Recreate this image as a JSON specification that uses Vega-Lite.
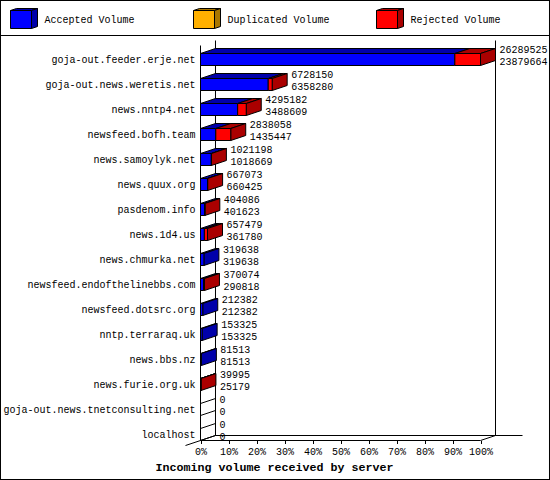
{"$schema":"https://vega.github.io/schema/vega-lite/v6.json","width":550,"height":480,"padding":0,"autosize":{"type":"none"},"background":"white",
"config":{"view":{"stroke":null},"axisY":{"disable":true},"axisX":{"grid":false,"domain":false,"tickColor":"black","tickSize":3,"labelColor":"black","labelFont":"Liberation Mono","labelFontSize":10,"labelPadding":3,"labelFlush":false,"labelOverlap":false,"labelAngle":0,"titleFont":"Liberation Mono","titleFontSize":11.67,"titleFontWeight":"bold","titleColor":"black"},"text":{"font":"Liberation Mono","fontSize":10,"color":"black"},"rule":{"color":"black","strokeWidth":1}},
"layer":[
{"data":{"values":[{}]},"layer":[
{"mark":"rule","encoding":{"x":{"datum":0,"type":"quantitative","scale":{"domain":[-71.607,124.821],"nice":false,"zero":false},"axis":{"values":[0,10,20,30,40,50,60,70,80,90,100],"labelExpr":"datum.value+'%'","offset":-39.5,"title":"Incoming volume received by server","titleX":274,"titleY":26,"titleBaseline":"middle","titleAlign":"center","titleAnchor":null}},"x2":{"datum":100},"y":{"datum":15.24,"type":"quantitative","scale":{"domain":[-2.38,16.82],"reverse":true,"nice":false,"zero":false}},"y2":{"datum":15.24}}},
{"mark":"rule","encoding":{"x":{"datum":0},"y":{"datum":-0.56},"y2":{"datum":15.24}}},
{"mark":"rule","encoding":{"x":{"datum":5.357},"y":{"datum":-0.76},"y2":{"datum":15.04}}},
{"mark":"rule","encoding":{"x":{"datum":105.357},"y":{"datum":-0.76},"y2":{"datum":15.04}}},
{"mark":"rule","encoding":{"x":{"datum":5.357},"x2":{"datum":115},"y":{"datum":15.04},"y2":{"datum":15.04}}},
{"mark":"rule","encoding":{"x":{"datum":100},"x2":{"datum":105.357},"y":{"datum":15.24},"y2":{"datum":15.04}}},
{"mark":"rule","encoding":{"x":{"datum":-5.357},"x2":{"datum":5.357},"y":{"datum":15.44},"y2":{"datum":15.04}}},
{"mark":"rule","encoding":{"x":{"datum":-71.607},"x2":{"datum":124.821},"y":{"datum":-0.96},"y2":{"datum":-0.96}}},
{"mark":"rule","encoding":{"x":{"datum":-71.607},"x2":{"datum":124.821},"y":{"datum":-2.36},"y2":{"datum":-2.36}}},
{"mark":"rule","encoding":{"x":{"datum":-71.607},"x2":{"datum":124.821},"y":{"datum":16.8},"y2":{"datum":16.8}}},
{"mark":"rule","encoding":{"x":{"datum":-71.43},"y":{"datum":-2.38},"y2":{"datum":16.8}}},
{"mark":"rule","encoding":{"x":{"datum":124.64},"y":{"datum":-2.38},"y2":{"datum":16.8}}}
]},
{"data":{"values":[{"series":"Accepted Volume"},{"series":"Duplicated Volume"},{"series":"Rejected Volume"}]},
"transform":[{"window":[{"op":"row_number","as":"n"}]},{"calculate":"-67.857+65.357*(datum.n-1)","as":"left"}],
"layer":[
{"transform":[{"calculate":"[0,1]","as":"v"},{"flatten":["v"]},{"calculate":"datum.left+2.143*datum.v","as":"a"},{"calculate":"datum.left+7.5+2.143*datum.v","as":"b"},{"calculate":"-1.96-0.08*datum.v","as":"t"}],
"mark":{"type":"area","orient":"horizontal","stroke":"black","strokeWidth":1},
"encoding":{"x":{"field":"a","type":"quantitative"},"x2":{"field":"b"},"y":{"field":"t","type":"quantitative"},"detail":{"field":"series"},"color":{"field":"series","type":"nominal","legend":null,"scale":{"domain":["Accepted Volume","Duplicated Volume","Rejected Volume"],"range":["#0000AA","#AA7700","#AA0000"]}}}},
{"transform":[{"calculate":"[0,1]","as":"v"},{"flatten":["v"]},{"calculate":"datum.left+7.5+2.143*datum.v","as":"b"},{"calculate":"-1.96-0.08*datum.v","as":"t"},{"calculate":"-1.24-0.08*datum.v","as":"u"}],
"mark":{"type":"area","orient":"vertical","stroke":"black","strokeWidth":1},
"encoding":{"x":{"field":"b","type":"quantitative"},"y":{"field":"t","type":"quantitative"},"y2":{"field":"u"},"detail":{"field":"series"},"color":{"field":"series","type":"nominal","legend":null}}},
{"transform":[{"calculate":"datum.left+7.5","as":"b"}],
"mark":{"type":"rect","stroke":"black","strokeWidth":1},
"encoding":{"x":{"field":"left","type":"quantitative"},"x2":{"field":"b"},"y":{"datum":-1.96},"y2":{"datum":-1.24},"fill":{"field":"series","type":"nominal","legend":null,"scale":{"domain":["Accepted Volume","Duplicated Volume","Rejected Volume"],"range":["#0000FF","#FFB000","#FF0000"]}}}},
{"transform":[{"calculate":"datum.left+12.14","as":"tx"}],
"mark":{"type":"text","align":"left","baseline":"middle"},
"encoding":{"x":{"field":"tx","type":"quantitative"},"y":{"datum":-1.58},"text":{"field":"series"}}}
]},
{"data":{"values":[
{"host":"goja-out.feeder.erje.net","total":26289525,"accepted":23879664},
{"host":"goja-out.news.weretis.net","total":6728150,"accepted":6358280},
{"host":"news.nntp4.net","total":4295182,"accepted":3488609},
{"host":"newsfeed.bofh.team","total":2838058,"accepted":1435447},
{"host":"news.samoylyk.net","total":1021198,"accepted":1018669},
{"host":"news.quux.org","total":667073,"accepted":660425},
{"host":"pasdenom.info","total":404086,"accepted":401623},
{"host":"news.1d4.us","total":657479,"accepted":361780},
{"host":"news.chmurka.net","total":319638,"accepted":319638},
{"host":"newsfeed.endofthelinebbs.com","total":370074,"accepted":290818},
{"host":"newsfeed.dotsrc.org","total":212382,"accepted":212382},
{"host":"nntp.terraraq.uk","total":153325,"accepted":153325},
{"host":"news.bbs.nz","total":81513,"accepted":81513},
{"host":"news.furie.org.uk","total":39995,"accepted":25179},
{"host":"goja-out.news.tnetconsulting.net","total":0,"accepted":0},
{"host":"localhost","total":0,"accepted":0}
]},
"transform":[{"window":[{"op":"row_number","as":"n"}]},{"calculate":"datum.n-1","as":"row"},{"calculate":"100*datum.total/26289525","as":"pTotal"},{"calculate":"100*datum.accepted/26289525","as":"pAcc"}],
"layer":[
{"transform":[{"filter":"datum.total==0"},{"calculate":"[0,1]","as":"v"},{"flatten":["v"]},{"calculate":"5.357*datum.v","as":"b"},{"calculate":"datum.row-0.24-0.2*datum.v","as":"t"},{"calculate":"datum.row+0.24-0.2*datum.v","as":"u"}],
"mark":{"type":"area","orient":"vertical","fill":"transparent","stroke":"black","strokeWidth":1},
"encoding":{"x":{"field":"b","type":"quantitative"},"y":{"field":"t","type":"quantitative"},"y2":{"field":"u"},"detail":{"field":"host"}}},
{"transform":[{"calculate":"['Accepted Volume','Rejected Volume']","as":"seg"},{"calculate":"[0,datum.pAcc]","as":"lo"},{"calculate":"[datum.pAcc,datum.pTotal]","as":"hi"},{"flatten":["seg","lo","hi"]},{"filter":"datum.hi>datum.lo"}],
"layer":[
{"transform":[{"calculate":"[0,1]","as":"v"},{"flatten":["v"]},{"calculate":"datum.lo+5.357*datum.v","as":"a"},{"calculate":"datum.hi+5.357*datum.v","as":"b"},{"calculate":"datum.row-0.24-0.2*datum.v","as":"t"}],
"mark":{"type":"area","orient":"horizontal","stroke":"black","strokeWidth":1},
"encoding":{"x":{"field":"a","type":"quantitative"},"x2":{"field":"b"},"y":{"field":"t","type":"quantitative"},"detail":{"field":"host"},"color":{"field":"seg","type":"nominal","legend":null}}},
{"transform":[{"filter":"datum.hi==datum.pTotal"},{"calculate":"[0,1]","as":"v"},{"flatten":["v"]},{"calculate":"datum.hi+5.357*datum.v","as":"b"},{"calculate":"datum.row-0.24-0.2*datum.v","as":"t"},{"calculate":"datum.row+0.24-0.2*datum.v","as":"u"}],
"mark":{"type":"area","orient":"vertical","stroke":"black","strokeWidth":1},
"encoding":{"x":{"field":"b","type":"quantitative"},"y":{"field":"t","type":"quantitative"},"y2":{"field":"u"},"detail":{"field":"host"},"color":{"field":"seg","type":"nominal","legend":null}}},
{"transform":[{"calculate":"datum.row-0.24","as":"t"},{"calculate":"datum.row+0.24","as":"u"}],
"mark":{"type":"rect","stroke":"black","strokeWidth":1},
"encoding":{"x":{"field":"lo","type":"quantitative"},"x2":{"field":"hi"},"y":{"field":"t","type":"quantitative"},"y2":{"field":"u"},"fill":{"field":"seg","type":"nominal","legend":null}}}
]},
{"mark":{"type":"text","align":"right","baseline":"middle","dx":-5},"encoding":{"x":{"datum":0},"y":{"field":"row","type":"quantitative"},"text":{"field":"host"}}},
{"transform":[{"calculate":"datum.pTotal+5.357","as":"e"},{"calculate":"datum.row-0.38","as":"r"}],"mark":{"type":"text","align":"left","baseline":"middle","dx":4},"encoding":{"x":{"field":"e","type":"quantitative"},"y":{"field":"r","type":"quantitative"},"text":{"field":"total","type":"quantitative","format":"d"}}},
{"transform":[{"calculate":"datum.pTotal+5.357","as":"e"},{"calculate":"datum.row+0.08","as":"r"}],"mark":{"type":"text","align":"left","baseline":"middle","dx":4},"encoding":{"x":{"field":"e","type":"quantitative"},"y":{"field":"r","type":"quantitative"},"text":{"field":"accepted","type":"quantitative","format":"d"}}}
]}
]}
